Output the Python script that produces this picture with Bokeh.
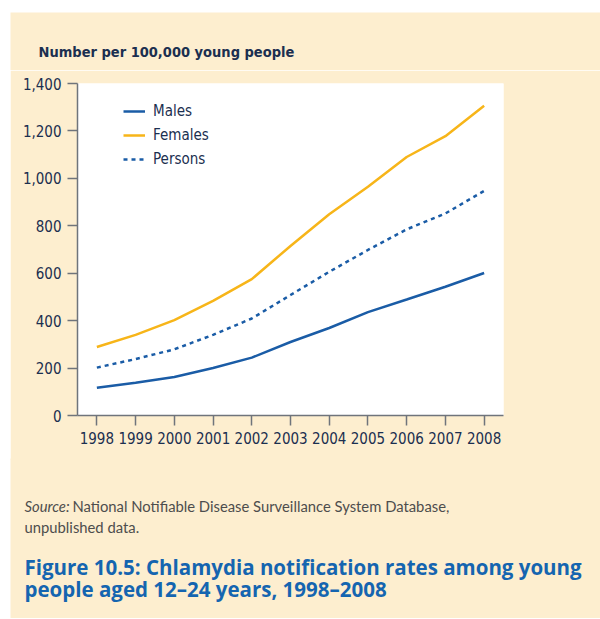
from bokeh.plotting import figure
from bokeh.models import Label, Legend, LegendItem, NumeralTickFormatter, FixedTicker, Range1d, ColumnDataSource
from bokeh.embed import file_html
from bokeh.resources import INLINE

years = [1998, 1999, 2000, 2001, 2002, 2003, 2004, 2005, 2006, 2007, 2008]
males = [117, 138, 162, 200, 244, 310, 369, 436, 489, 543, 601]
females = [289, 340, 402, 483, 575, 715, 849, 965, 1090, 1178, 1306]
persons = [202, 238, 279, 340, 409, 508, 606, 698, 785, 852, 947]
y_ticks = [0, 200, 400, 600, 800, 1000, 1200, 1400]

BG = "#fdeecf"
NAVY = "#1b2f50"
BLUE = "#1a5ca6"
GOLD = "#f7b519"
font = "DejaVu Sans Condensed"
W = 590


def text_fig(h, margin):
    f = figure(width=W, height=h, output_backend="svg", toolbar_location=None,
               x_range=Range1d(0, W), y_range=Range1d(0, h),
               x_axis_location=None, y_axis_location=None,
               min_border_left=0, min_border_right=0, min_border_top=0, min_border_bottom=0)
    f.margin = margin
    f.background_fill_color = BG
    f.border_fill_color = BG
    f.outline_line_color = None
    f.grid.visible = False
    return f


# top text area
top = text_fig(58, (12, 0, 0, 10))
top.add_layout(Label(x=28, y=19, x_units="screen", y_units="screen", text="Number per 100,000 young people",
                     text_font=font, text_font_style="bold", text_font_size="14.5px", text_color=NAVY,
                     text_baseline="alphabetic"))

# main chart
p = figure(width=W, height=390, output_backend="svg", toolbar_location=None,
           x_range=Range1d(1997.5, 2008.5), y_range=Range1d(0, 1400),
           min_border_left=67, min_border_top=13, min_border_right=97, min_border_bottom=45)
p.margin = (0, 0, 0, 10)
p.background_fill_color = "white"
p.border_fill_color = BG
p.outline_line_color = None
p.grid.visible = False

for ax in (p.xaxis, p.yaxis):
    ax.axis_line_color = "#6f747b"
    ax.axis_line_width = 1.5
    ax.major_tick_line_color = "#6f747b"
    ax.major_tick_line_width = 1.5
    ax.major_tick_out = 10
    ax.major_tick_in = 0
    ax.minor_tick_line_color = None
    ax.major_label_text_font = font
    ax.major_label_text_font_size = "15px"
    ax.major_label_text_color = NAVY
p.xaxis.ticker = FixedTicker(ticks=years)
p.yaxis.ticker = FixedTicker(ticks=y_ticks)
p.yaxis.formatter = NumeralTickFormatter(format="0,0")
p.xaxis.major_label_standoff = 6
p.yaxis.major_label_standoff = 6

src = ColumnDataSource(dict(x=years, m=males, f=females, p=persons))
rm = p.line("x", "m", source=src, line_color=BLUE, line_width=2.5)
rf = p.line("x", "f", source=src, line_color=GOLD, line_width=2.5)
rp = p.line("x", "p", source=src, line_color=BLUE, line_width=2.5, line_dash="4 4")

legend = Legend(items=[LegendItem(label="Males", renderers=[rm]),
                       LegendItem(label="Females", renderers=[rf]),
                       LegendItem(label="Persons", renderers=[rp])],
                location=(46, 246), background_fill_alpha=0, border_line_color=None,
                label_text_font=font, label_text_font_size="15px", label_text_color=NAVY,
                glyph_width=22, glyph_height=20, label_height=20, spacing=4, padding=0,
                label_standoff=8)
p.add_layout(legend, "center")

# bottom text area
bot = text_fig(160, (-2, 0, 0, 10))
src_style = dict(x_units="screen", y_units="screen", text_font="Lato", text_font_size="14.8px",
                 text_color="#4d4d4d", text_baseline="alphabetic")
bot.add_layout(Label(x=14, y=113, text="Source:", text_font_style="italic", **src_style))
bot.add_layout(Label(x=62, y=113, text="National Notifiable Disease Surveillance System Database,", **src_style))
bot.add_layout(Label(x=14, y=92, text="unpublished data.", **src_style))
cap_style = dict(x_units="screen", y_units="screen", text_font="Open Sans", text_font_style="bold",
                 text_font_size="20.5px", text_color="#1565b0", text_baseline="alphabetic")
bot.add_layout(Label(x=14, y=52, text="Figure 10.5: Chlamydia notification rates among young", **cap_style))
bot.add_layout(Label(x=14, y=30, text="people aged 12\u201324 years, 1998\u20132008", **cap_style))

open("out.html", "w").write(file_html([top, p, bot], INLINE))
